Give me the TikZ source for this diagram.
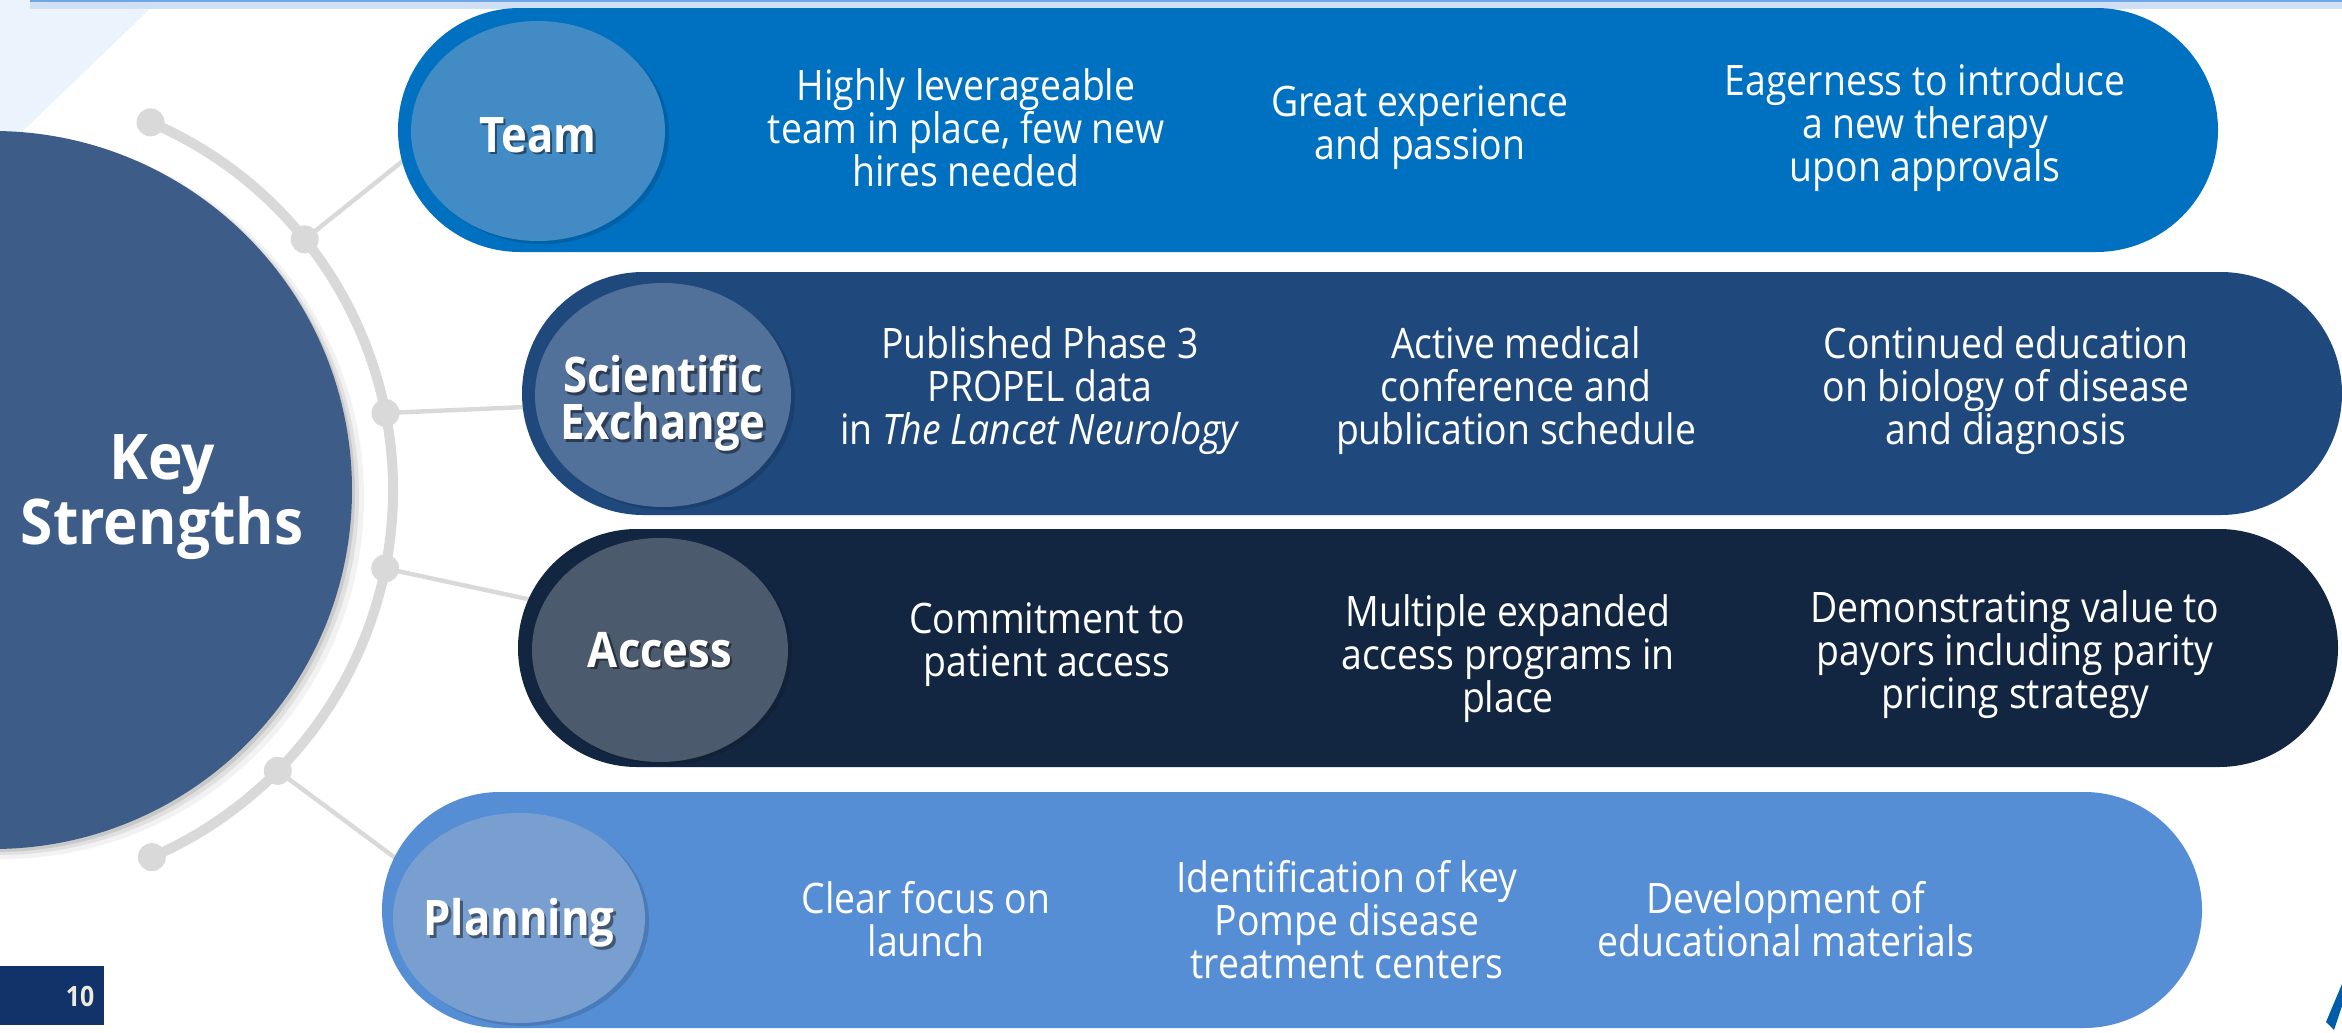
\documentclass[tikz,border=0pt]{standalone}
\usepackage{fontspec}
\setmainfont{Open Sans}[FakeStretch=0.89]
\newfontfamily\keyfont{Open Sans}[FakeStretch=0.93]
\usetikzlibrary{shapes.geometric}
\definecolor{teamout}{HTML}{0070C0}
\definecolor{teamin}{HTML}{428BC5}
\definecolor{sciout}{HTML}{1F497D}
\definecolor{sciin}{HTML}{51709A}
\definecolor{accout}{HTML}{132641}
\definecolor{accin}{HTML}{4B5A6D}
\definecolor{planout}{HTML}{558ED5}
\definecolor{planin}{HTML}{789FD0}
\definecolor{keycol}{HTML}{3D5C87}
\definecolor{arcgrey}{HTML}{D9D9D9}
\definecolor{pagebox}{HTML}{12336A}
\definecolor{pagetxt}{HTML}{EEEAE0}
\definecolor{logoblue}{HTML}{005DAA}
\definecolor{tri}{HTML}{EBF3FC}
\definecolor{band}{HTML}{CFE0F4}
\definecolor{bandline}{HTML}{6EA6E6}
\tikzset{
  body/.style={text=white, align=center, inner sep=0pt, font=\fontsize{21}{21.5}\selectfont},
  ttl/.style={text=white, align=center, inner sep=0pt, font=\bfseries\fontsize{24.5}{23.5}\selectfont},
  ttlsh/.style={ttl, text=black, opacity=0.45},
  titleell/.style={ellipse, inner sep=0pt},
  dotn/.style={circle, fill=arcgrey, minimum size=14pt, inner sep=0pt},
  conn/.style={draw=arcgrey, line width=2.2pt},
}
\begin{document}
\begin{tikzpicture}[x=0.5pt,y=-0.5pt]
\useasboundingbox (0,0) rectangle (2342,1033);
\clip (0,0) rectangle (2342,1033);
\fill[white] (0,0) rectangle (2342,1033);
% top-left decoration and top band
\fill[tri] (0,0) -- (159,0) -- (0,153) -- cycle;
\fill[band] (30,0) rectangle (2342,9);
\fill[bandline] (30,0) rectangle (2342,1.5);

% centre of the key circle and arc
\coordinate (kc) at (-7,490);
\path (kc) ++(66.8:200pt) coordinate (arcS);
\draw[arcgrey, line width=5pt] (arcS) arc[start angle=66.8, end angle=-66.6, radius=200pt];
\path (kc) ++(66.8:200pt) node[dotn] (e1) {};
\path (kc) ++(38.8:200pt) node[dotn] (d1) {};
\path (kc) ++(11.1:200pt) node[dotn] (d2) {};
\path (kc) ++(-11.3:200pt) node[dotn] (d3) {};
\path (kc) ++(-44.6:200pt) node[dotn] (d4) {};
\path (kc) ++(-66.6:200pt) node[dotn] (e2) {};

% connector end points on the pills
\coordinate (teamL) at (404,160);
\coordinate (sciL) at (526,407);
\coordinate (accL) at (532,600);
\coordinate (planL) at (398,860);
\draw[conn] (d1.center) -- (teamL);
\draw[conn] (d2.center) -- (sciL);
\draw[conn] (d3.center) -- (accL);
\draw[conn] (d4.center) -- (planL);

% key circle with soft shadow
\fill[black, opacity=0.05] ([shift={(9,7)}]kc) circle[radius=181pt];
\fill[black, opacity=0.07] ([shift={(6,5)}]kc) circle[radius=180pt];
\fill[black, opacity=0.10] ([shift={(3,3)}]kc) circle[radius=179.5pt];
\node[circle, fill=keycol, minimum size=359pt, inner sep=0pt] (key) at (kc) {};
\node[text=white, align=center, inner sep=0pt, font=\keyfont\bfseries\fontsize{31.5}{28.5}\selectfont] (keytxt) at (162,497) {Key\\Strengths};

% pills
\fill[teamout, rounded corners=61pt] (398,8) rectangle (2218,252);
\fill[sciout, rounded corners=60.75pt] (522,272) rectangle (2342,515);
\fill[accout, rounded corners=59.5pt] (518,529) rectangle (2338,767);
\fill[planout, rounded corners=59pt] (382,792) rectangle (2202,1028);

% title ellipses (shadow then fill)
\node[titleell, fill=black, opacity=0.13, minimum width=127pt, minimum height=110pt] at (542,134) {};
\node[titleell, fill=teamin, minimum width=127pt, minimum height=110pt] (teamc) at (538,131) {};
\node[titleell, fill=black, opacity=0.13, minimum width=128pt, minimum height=112pt] at (667,398) {};
\node[titleell, fill=sciin, minimum width=128pt, minimum height=112pt] (scic) at (663,395) {};
\node[titleell, fill=black, opacity=0.13, minimum width=128pt, minimum height=112pt] at (664,653) {};
\node[titleell, fill=accin, minimum width=128pt, minimum height=112pt] (accc) at (660,650) {};
\node[titleell, fill=black, opacity=0.13, minimum width=126pt, minimum height=105pt] at (523,921) {};
\node[titleell, fill=planin, minimum width=126pt, minimum height=105pt] (planc) at (519,918) {};

% titles
\node[ttlsh] at ([shift={(2.5,6.5)}]teamc) {Team};
\node[ttl] (teamt) at ([shift={(0,4)}]teamc) {Team};
\node[ttlsh] at ([shift={(2.5,11)}]scic) {Scientific\\Exchange};
\node[ttl] (scit) at ([shift={(0,8.5)}]scic) {Scientific\\Exchange};
\node[ttlsh] at ([shift={(2.5,2.5)}]accc) {Access};
\node[ttl] (acct) at (accc) {Access};
\node[ttlsh] at ([shift={(2.5,7.5)}]planc) {Planning};
\node[ttl] (plant) at ([shift={(0,5)}]planc) {Planning};

% body texts
\node[body] (t1) at (966,128) {Highly leverageable\\team in place, few new\\hires needed};
\node[body] (t2) at (1420,128) {Great experience\\and passion};
\node[body] (t3) at (1925,128) {Eagerness to introduce\\a new therapy\\upon approvals};
\node[body] (s1) at (1040,391) {Published Phase 3\\PROPEL data\\in \textit{The Lancet Neurology}};
\node[body] (s2) at (1516,391) {Active medical\\conference and\\publication schedule};
\node[body] (s3) at (2006,391) {Continued education\\on biology of disease\\and diagnosis};
\node[body] (a1) at (1047,645) {Commitment to\\patient access};
\node[body] (a2) at (1508,659) {Multiple expanded\\access programs in\\place};
\node[body] (a3) at (2015,655) {Demonstrating value to\\payors including parity\\pricing strategy};
\node[body] (p1) at (926,919) {Clear focus on\\launch};
\node[body] (p2) at (1347,920) {Identification of key\\Pompe disease\\treatment centers};
\node[body] (p3) at (1786,919) {Development of\\educational materials};

% page number
\fill[pagebox] (0,966) rectangle (104,1025);
\node[text=pagetxt, inner sep=0pt, font=\bfseries\fontsize{14}{14}\selectfont] (pg) at (80,996) {10};

% logo fragment
\fill[logoblue] (2326,1022) -- (2334,1030) -- (2342,1006) -- (2342,984) -- cycle;
\end{tikzpicture}
\end{document}
